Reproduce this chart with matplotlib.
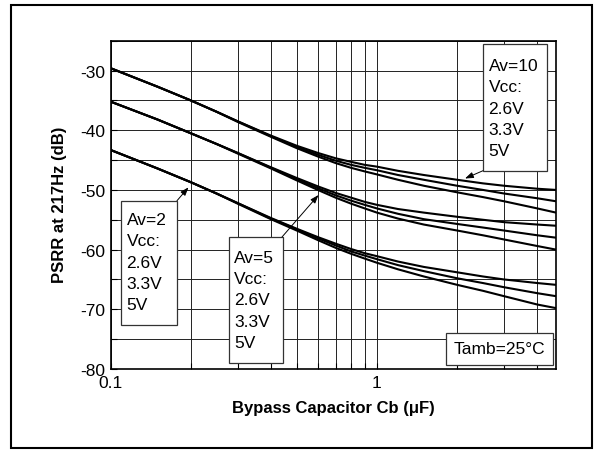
import matplotlib
matplotlib.use("Agg")
import matplotlib.pyplot as plt
from matplotlib.patches import Rectangle
from matplotlib.ticker import MultipleLocator, FixedLocator, NullFormatter, FixedFormatter

plt.rcParams['font.family'] = ['Liberation Sans', 'DejaVu Sans']
plt.rcParams['axes.unicode_minus'] = False

# Bypass capacitor values (uF)
cb = [0.1, 0.15, 0.2, 0.25, 0.3, 0.4, 0.5, 0.6, 0.7, 0.8, 0.9, 1.0, 1.2, 1.5, 2.0, 2.5, 3.0, 4.0, 4.7]

# PSRR (dB) Av=10
av10_26 = [-29.6, -32.7, -35.0, -36.9, -38.5, -40.9, -42.6, -43.8, -44.7, -45.3, -45.8, -46.1, -46.8, -47.5, -48.3, -48.9, -49.3, -49.8, -50.0]
av10_33 = [-29.6, -32.7, -35.0, -36.9, -38.5, -41.0, -42.8, -44.1, -45.1, -45.8, -46.3, -46.7, -47.5, -48.3, -49.3, -50.0, -50.6, -51.4, -51.9]
av10_50 = [-29.6, -32.7, -35.0, -36.9, -38.6, -41.1, -43.0, -44.4, -45.5, -46.3, -46.9, -47.4, -48.3, -49.3, -50.4, -51.2, -51.9, -53.1, -53.8]
# Av=5
av5_26 = [-35.2, -38.2, -40.5, -42.3, -43.8, -46.2, -48.0, -49.4, -50.5, -51.3, -52.0, -52.5, -53.2, -53.8, -54.5, -55.0, -55.4, -55.8, -56.0]
av5_33 = [-35.2, -38.2, -40.5, -42.3, -43.8, -46.3, -48.2, -49.7, -50.9, -51.8, -52.5, -53.1, -54.0, -54.9, -55.7, -56.3, -56.8, -57.6, -58.0]
av5_50 = [-35.2, -38.2, -40.5, -42.3, -43.9, -46.4, -48.4, -50.0, -51.3, -52.3, -53.1, -53.8, -54.8, -55.8, -56.8, -57.6, -58.3, -59.4, -60.0]
# Av=2
av2_26 = [-43.3, -46.4, -48.7, -50.6, -52.2, -54.7, -56.5, -57.9, -59.0, -59.9, -60.6, -61.1, -62.0, -62.9, -63.8, -64.5, -65.0, -65.6, -65.9]
av2_33 = [-43.3, -46.4, -48.7, -50.6, -52.2, -54.8, -56.6, -58.1, -59.3, -60.3, -61.0, -61.6, -62.6, -63.6, -64.8, -65.6, -66.3, -67.3, -67.8]
av2_50 = [-43.3, -46.4, -48.7, -50.6, -52.3, -54.9, -56.8, -58.4, -59.7, -60.7, -61.5, -62.2, -63.3, -64.5, -65.9, -66.9, -67.8, -69.2, -69.8]

series = [av10_26, av10_33, av10_50, av5_26, av5_33, av5_50, av2_26, av2_33, av2_50]

W, H = 602, 456
fig = plt.figure(figsize=(W / 100, H / 100), dpi=100)
fig.patch.set_facecolor('white')

# outer frame
fig.patches.append(Rectangle((10.7 / W, 1 - 449 / H), (592 - 10.7) / W, (449 - 5.7) / H,
                             transform=fig.transFigure, fill=False, lw=1.5, ec='black'))

L, R, T, B = 110.5, 556.0, 41.7, 370.0
ax = fig.add_axes([L / W, 1 - B / H, (R - L) / W, (B - T) / H])

for s in series:
    ax.plot(cb, s, color='black', lw=1.5, solid_capstyle='butt', solid_joinstyle='round', zorder=3)

ax.set_xscale('log')
ax.set_xlim(0.1, 4.7)
ax.set_ylim(-80, -25)

ax.xaxis.set_major_locator(FixedLocator([0.1, 1]))
ax.xaxis.set_major_formatter(FixedFormatter(['0.1', '1']))
ax.xaxis.set_minor_locator(FixedLocator([0.2, 0.3, 0.4, 0.5, 0.6, 0.7, 0.8, 0.9, 2, 3, 4]))
ax.xaxis.set_minor_formatter(NullFormatter())
ax.yaxis.set_major_locator(FixedLocator([-80, -70, -60, -50, -40, -30]))
ax.yaxis.set_minor_locator(MultipleLocator(5))

ax.grid(True, which='both', color='#222222', lw=0.7)
ax.set_axisbelow(True)
ax.tick_params(which='both', direction='in', length=4, width=0.8, labelsize=12.5, pad=4)
for sp in ax.spines.values():
    sp.set_linewidth(1.2)

ax.set_xlabel('Bypass Capacitor Cb (μF)', fontsize=12, fontweight='bold', va='top')
ax.set_ylabel('PSRR at 217Hz (dB)', fontsize=12, fontweight='bold')
ax.xaxis.set_label_coords((333 - L) / (R - L), (B - 401) / (B - T))
ax.yaxis.set_label_coords((67 - L) / (R - L), (B - 205) / (B - T))


def fx(px):
    return (px - L) / (R - L)


def fy(py):
    return (B - py) / (B - T)


def box(x0, y0, x1, y1):
    ax.add_patch(Rectangle((fx(x0), fy(y1)), fx(x1) - fx(x0), fy(y0) - fy(y1),
                           transform=ax.transAxes, fc='white', ec='#333333', lw=0.9, zorder=5))


def lines(x, y0, texts, step=21.3):
    for i, t in enumerate(texts):
        ax.text(fx(x), fy(y0 + i * step), t, transform=ax.transAxes, fontsize=12.5,
                va='center', ha='left', zorder=6)


def arrow(x0, y0, x1, y1):
    ax.annotate('', xy=(fx(x1), fy(y1)), xytext=(fx(x0), fy(y0)),
                xycoords='axes fraction', textcoords='axes fraction',
                arrowprops=dict(arrowstyle='-|>,head_length=0.5,head_width=0.18',
                                color='black', lw=0.7, shrinkA=0, shrinkB=0), zorder=6)


# Av=10 box
box(482.7, 45, 546.7, 171.7)
lines(488.5, 66.7, ['Av=10', 'Vcc:', '2.6V', '3.3V', '5V'])
arrow(483, 171.7, 465, 179.5)

# Av=2 box
box(120.7, 201.7, 177, 326)
lines(126.5, 220.7, ['Av=2', 'Vcc:', '2.6V', '3.3V', '5V'])
arrow(177, 201.7, 188.5, 188.3)

# Av=5 box
box(228.7, 238.3, 282.7, 364.3)
lines(234.0, 258.3, ['Av=5', 'Vcc:', '2.6V', '3.3V', '5V'])
arrow(282, 238, 318.5, 196)

# Tamb box
box(446, 334.3, 553.3, 365.7)
ax.text(fx(499.7), fy(350), 'Tamb=25°C', transform=ax.transAxes, fontsize=12.5,
        va='center', ha='center', zorder=6)

fig.savefig('out.png', dpi=100)
